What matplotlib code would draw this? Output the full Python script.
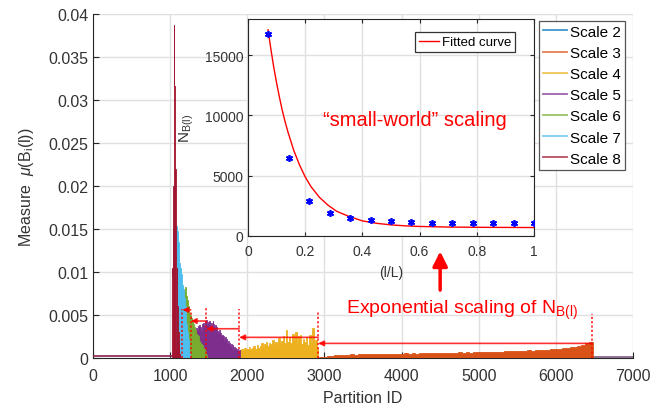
import numpy as np
import matplotlib
matplotlib.use('Agg')
import matplotlib.pyplot as plt
from matplotlib.lines import Line2D

plt.rcParams['font.family'] = ['Liberation Sans', 'DejaVu Sans']
plt.rcParams['mathtext.fontset'] = 'custom'
plt.rcParams['mathtext.rm'] = 'Liberation Sans'
plt.rcParams['mathtext.it'] = 'Liberation Sans:italic'

# ---- main chart data (partition id -> measure) ----
scale_names = ['Scale 2', 'Scale 3', 'Scale 4', 'Scale 5', 'Scale 6', 'Scale 7', 'Scale 8']
scale_colors = ['#0072BD', '#D95319', '#EDB120', '#7E2F8E', '#77AC30', '#4DBEEE', '#A2142F']

s2_start, s2_step = 1040, 10
s2_vals = [0.015, 0.02, 0.004]

s3_start, s3_step = 2930, 50
s3_vals = [0.0001, 0.00015, 0.0002, 0.00025, 0.0004, 0.00035, 0.0004, 0.00038, 0.00042, 0.0004,
           0.00045, 0.00042, 0.00046, 0.00044, 0.00048, 0.00045, 0.0005, 0.00047, 0.0005, 0.00048,
           0.00052, 0.0005, 0.00054, 0.0005, 0.00055, 0.00052, 0.00056, 0.00054, 0.00058, 0.00055,
           0.0006, 0.00057, 0.0006, 0.00058, 0.00062, 0.0006, 0.00064, 0.00062, 0.00066, 0.00063,
           0.00068, 0.00065, 0.0007, 0.00067, 0.00072, 0.0007, 0.00075, 0.00072, 0.00078, 0.00076,
           0.0008, 0.00078, 0.00084, 0.00082, 0.00088, 0.00086, 0.00092, 0.0009, 0.00097, 0.00095,
           0.001, 0.00102, 0.0011, 0.00112, 0.0012, 0.00125, 0.0013, 0.0014, 0.0015, 0.0017, 0.0019]

s4_start, s4_step = 1880, 20
s4_vals = [0.0008, 0.0009, 0.0011, 0.0009, 0.0012, 0.001, 0.0011, 0.0013, 0.001, 0.0012,
           0.0014, 0.0011, 0.0015, 0.0012, 0.0014, 0.0017, 0.0013, 0.0016, 0.0019, 0.0014,
           0.0018, 0.0016, 0.0021, 0.0015, 0.0019, 0.0017, 0.0023, 0.0016, 0.002, 0.0025,
           0.0018, 0.0032, 0.0019, 0.0024, 0.0017, 0.0028, 0.0021, 0.003, 0.0018, 0.0026,
           0.0027, 0.0016, 0.0022, 0.0019, 0.0024, 0.0015, 0.0027, 0.0018, 0.0035, 0.0017,
           0.0021, 0.0012]

s5_start, s5_step = 1260, 10
s5_vals = [0.001, 0.0018, 0.0024, 0.0029, 0.0031, 0.0027, 0.0033, 0.0029, 0.0035, 0.0032,
           0.0037, 0.0034, 0.0038, 0.0036, 0.0033, 0.0039, 0.0036, 0.0041, 0.0038, 0.0043,
           0.004, 0.0044, 0.0039, 0.0042, 0.004, 0.0043, 0.0038, 0.0041, 0.0037, 0.0043,
           0.0039, 0.0035, 0.0038, 0.0033, 0.0036, 0.0031, 0.0029, 0.0032, 0.0027, 0.0029,
           0.0025, 0.0027, 0.0023, 0.0026, 0.0021, 0.0024, 0.0019, 0.0022, 0.0018, 0.002,
           0.0016, 0.0018, 0.0014, 0.0016, 0.0012, 0.0015, 0.0011, 0.0013, 0.001, 0.0012,
           0.0009, 0.0011, 0.0008, 0.0009]

s6_start, s6_step = 1120, 10
s6_vals = [0.001, 0.003, 0.005, 0.0062, 0.007, 0.0075, 0.0078, 0.0082, 0.0078, 0.0072,
           0.0068, 0.006, 0.0056, 0.0052, 0.005, 0.0046, 0.0043, 0.0042, 0.004, 0.0036,
           0.0032, 0.003, 0.0028, 0.0027, 0.0025, 0.0022, 0.002, 0.0018, 0.0016, 0.0015,
           0.0013, 0.0012, 0.001, 0.0008, 0.0006, 0.0004]

s7_start, s7_step = 1060, 10
s7_vals = [0.006, 0.0135, 0.0153, 0.0148, 0.0135, 0.012, 0.011, 0.0105, 0.0098, 0.009,
           0.0085, 0.008, 0.007, 0.006, 0.005, 0.004, 0.003, 0.0022, 0.0015, 0.0007]

s8_start, s8_step = 1020, 5
s8_vals = [0.0005, 0.0105, 0.0095, 0.014, 0.02, 0.0273, 0.0387, 0.0316, 0.028, 0.022,
           0.018, 0.0125, 0.001, 0.0105, 0.0008, 0.006, 0.0005, 0.003, 0.0003, 0.0015,
           0.0002, 0.0005]

floor_left_x = [0, 1020]
floor_left_y = 0.00025
floor_right_x = [6470, 7000]
floor_right_y = 0.00012

# red annotation marks
dotted_x = [1159, 1267, 1466, 1894, 2918, 6468]
dotted_top = [0.0057, 0.0055, 0.0058, 0.0057, 0.0055, 0.0051]
arrow_from = [1267, 1466, 1894, 2918, 6468]
arrow_to = [1159, 1267, 1466, 1894, 2918]
arrow_y = [0.0056, 0.0043, 0.0034, 0.0024, 0.0017]

# ---- inset data ----
ratio_x = [1/14, 2/14, 3/14, 4/14, 5/14, 6/14, 7/14, 8/14, 9/14, 10/14, 11/14, 12/14, 13/14, 1.0]
n_box = [16750, 6500, 2940, 1920, 1480, 1310, 1225, 1140, 1100, 1080, 1060, 1050, 1050, 1040]
fit_x = [0.07, 0.08, 0.09, 0.10, 0.11, 0.12, 0.13, 0.14, 0.16, 0.18, 0.20, 0.22, 0.25,
         0.28, 0.31, 0.35, 0.40, 0.45, 0.50, 0.55, 0.60, 0.70, 0.80, 0.90, 1.00]
fit_y = [17100, 15500, 14000, 12700, 11500, 10400, 9450, 8600, 7100, 5900, 4900, 4100, 3200,
         2550, 2050, 1650, 1250, 1050, 920, 840, 790, 740, 720, 710, 700]

axcol = '#262626'
gridcol = '#e0e0e0'

fig = plt.figure(figsize=(6.54, 4.1), dpi=100)
ax = fig.add_axes([0.1422, 0.1244, 0.8257, 0.839])

series = [(s2_start, s2_step, s2_vals), (s3_start, s3_step, s3_vals), (s4_start, s4_step, s4_vals),
          (s5_start, s5_step, s5_vals), (s6_start, s6_step, s6_vals), (s7_start, s7_step, s7_vals),
          (s8_start, s8_step, s8_vals)]

ax.plot(floor_left_x, [floor_left_y] * 2, color='#8a2050', lw=1.2, zorder=3)
ax.plot(floor_right_x, [floor_right_y] * 2, color='#7a5a80', lw=1.2, zorder=3)
for (start, step, vals), col in zip(series, scale_colors):
    edges = start + step * np.arange(len(vals) + 1)
    ax.stairs(vals, edges, fill=True, facecolor=col, edgecolor=col, lw=0.6, zorder=3)

ax.vlines(dotted_x, 0, dotted_top, colors='red', linestyles=(0, (1.2, 1.2)), lw=1.3, alpha=0.8, zorder=4)
for x0, x1, y in zip(arrow_from, arrow_to, arrow_y):
    ax.annotate('', xy=(x1, y), xytext=(x0, y),
                arrowprops=dict(arrowstyle='-|>', color='red', lw=1.2, alpha=0.8,
                                mutation_scale=8, shrinkA=0, shrinkB=0), zorder=5)

ax.annotate('', xy=(4500, 0.0124), xytext=(4500, 0.0079),
            arrowprops=dict(arrowstyle='-|>', color='red', lw=2.5, mutation_scale=22,
                            shrinkA=0, shrinkB=0))
ax.text(4786, 0.0056, r'Exponential scaling of $\mathrm{N_{B(l)}}$', color='red',
        fontsize=14, ha='center', va='center')

ax.set_xlim(0, 7000)
ax.set_ylim(0, 0.04)
ax.set_xticks(np.arange(0, 7001, 1000))
ax.set_yticks(np.arange(0, 0.0401, 0.005))
ax.set_yticklabels(['0', '0.005', '0.01', '0.015', '0.02', '0.025', '0.03', '0.035', '0.04'])
ax.grid(True, color=gridcol, lw=1)
ax.set_axisbelow(True)
for s in ['top', 'right']:
    ax.spines[s].set_visible(False)
for s in ['left', 'bottom']:
    ax.spines[s].set_color(axcol)
ax.tick_params(direction='in', length=4, color=axcol, labelcolor='#333333', labelsize=11.5)
ax.tick_params(axis='x', pad=7)
ax.set_xlabel('Partition ID', fontsize=11.5, color='#333333', labelpad=5)
ax.set_ylabel(r'Measure  $\mu$(B$_\mathrm{i}$(l))', fontsize=11.5, color='#333333', labelpad=9)

handles = [Line2D([0], [0], color=c, lw=1.3, alpha=0.75) for c in scale_colors]
leg = ax.legend(handles, scale_names, loc='upper right', bbox_to_anchor=(0.985, 0.98),
                fontsize=11, frameon=True, fancybox=False, framealpha=1, edgecolor='#555555',
                handlelength=1.6, handletextpad=0.2, labelspacing=0.47, borderpad=0.25,
                borderaxespad=0)
leg.get_frame().set_linewidth(0.9)

# ---- inset ----
ax2 = fig.add_axes([0.3792, 0.4220, 0.4373, 0.5293])
ax2.plot(fit_x, fit_y, color='red', lw=1, label='Fitted curve', zorder=3)
ax2.plot(ratio_x, n_box, ls='none', marker=(6, 2, 0), ms=5, mew=1.2, color='blue', zorder=4)
ax2.set_xlim(0, 1)
ax2.set_ylim(0, 18000)
ax2.set_xticks([0, 0.2, 0.4, 0.6, 0.8, 1])
ax2.set_xticklabels(['0', '0.2', '0.4', '0.6', '0.8', '1'])
ax2.set_yticks([0, 5000, 10000, 15000])
ax2.grid(True, color=gridcol, lw=1)
ax2.set_axisbelow(True)
for s in ax2.spines.values():
    s.set_color(axcol)
ax2.tick_params(direction='in', length=3, color=axcol, labelcolor='#333333', labelsize=10,
                top=True, right=True)
ax2.tick_params(axis='x', pad=6)
ax2.set_xlabel('(l/L)', fontsize=10, color='#333333', labelpad=5)
ax2.set_ylabel(r'$\mathrm{N_{B(l)}}$', fontsize=11, color='#333333', labelpad=6)
ax2.text(0.584, 9700, '\u201csmall-world\u201d scaling', color='red', fontsize=14.5,
         ha='center', va='center')
leg2 = ax2.legend(loc='upper right', bbox_to_anchor=(0.934, 0.94), fontsize=9.5, frameon=True,
                  fancybox=False, framealpha=1, edgecolor='#333333', handlelength=1.5,
                  handletextpad=0.2, borderpad=0.3, borderaxespad=0)
leg2.get_frame().set_linewidth(0.9)

fig.savefig('out.png', dpi=100)
